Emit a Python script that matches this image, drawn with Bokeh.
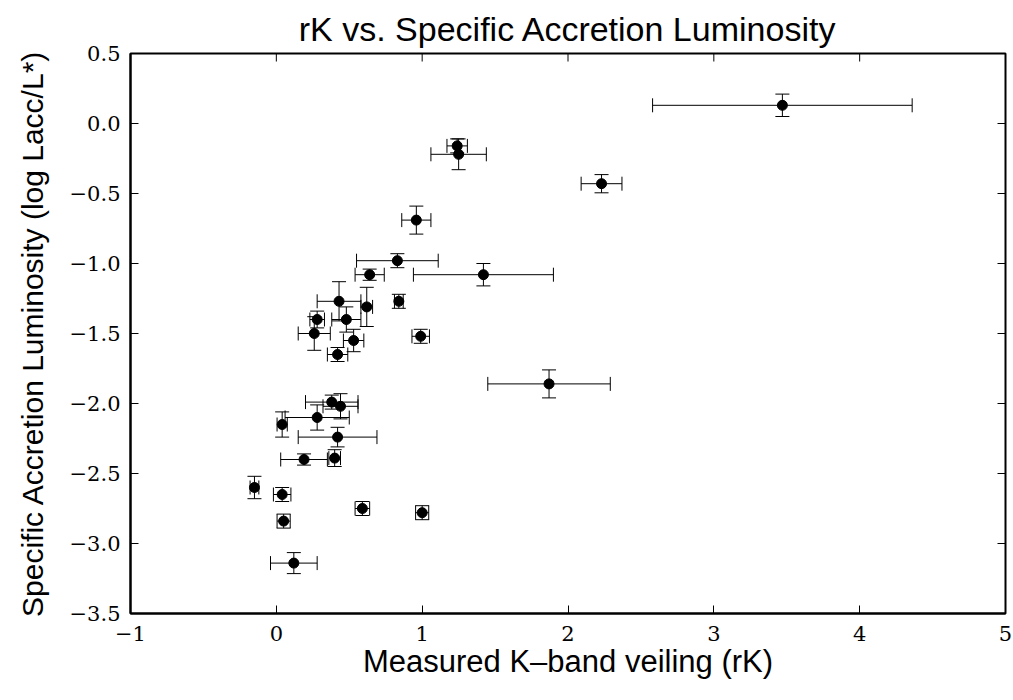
from bokeh.plotting import figure
from bokeh.models import ColumnDataSource, Whisker, TeeHead, FixedTicker, Range1d
from bokeh.embed import file_html
from bokeh.resources import INLINE

# data
x_vals = [3.47, 1.24, 1.25, 2.23, 0.96, 0.83, 0.64, 1.42, 0.84, 0.43, 0.62, 0.28, 0.48, 0.26, 0.53, 0.99,
          0.42, 1.87, 0.38, 0.44, 0.28, 0.04, 0.42, 0.19, 0.40, -0.15, 0.04, 0.59, 1.00, 0.05, 0.12]
y_vals = [0.13, -0.16, -0.22, -0.43, -0.69, -0.98, -1.08, -1.08, -1.27, -1.27, -1.31, -1.40, -1.40, -1.50,
          -1.55, -1.52, -1.65, -1.86, -1.99, -2.02, -2.10, -2.15, -2.24, -2.40, -2.39, -2.60, -2.65, -2.75,
          -2.78, -2.84, -3.14]
x_err = [0.89, 0.07, 0.19, 0.14, 0.10, 0.28, 0.10, 0.48, 0.03, 0.15, 0.04, 0.05, 0.10, 0.11, 0.07, 0.06,
         0.07, 0.42, 0.18, 0.12, 0.22, 0.035, 0.27, 0.16, 0.04, 0.03, 0.06, 0.05, 0.045, 0.045, 0.16]
y_err = [0.08, 0.05, 0.11, 0.065, 0.10, 0.05, 0.04, 0.08, 0.05, 0.14, 0.14, 0.06, 0.09, 0.12, 0.08, 0.05,
         0.05, 0.10, 0.05, 0.09, 0.09, 0.09, 0.07, 0.04, 0.06, 0.08, 0.05, 0.05, 0.05, 0.05, 0.075]

x_ticks = [-1, 0, 1, 2, 3, 4, 5]
x_tick_labels = ["\u22121", "0", "1", "2", "3", "4", "5"]
y_ticks = [-3.5, -3.0, -2.5, -2.0, -1.5, -1.0, -0.5, 0.0, 0.5]
y_tick_labels = ["\u22123.5", "\u22123.0", "\u22122.5", "\u22122.0", "\u22121.5", "\u22121.0", "\u22120.5", "0.0", "0.5"]

title_text = "rK vs. Specific Accretion Luminosity"
x_label = "Measured K\u2013band veiling (rK)"
y_label = "Specific Accretion Luminosity (log Lacc/L*)"

W, H = 1013, 700
BL, BR, BT, BB = 130, 8, 53, 87
TICK_PX = 8

x_lo, x_hi = x_ticks[0], x_ticks[-1]
y_lo, y_hi = y_ticks[0], y_ticks[-1]
# tick length expressed in data units for the top/right edges
dx = TICK_PX * (x_hi - x_lo) / (W - BL - BR)
dy = TICK_PX * (y_hi - y_lo) / (H - BT - BB)

src = ColumnDataSource(dict(
    x=x_vals, y=y_vals,
    xl=[a - e for a, e in zip(x_vals, x_err)], xu=[a + e for a, e in zip(x_vals, x_err)],
    yl=[a - e for a, e in zip(y_vals, y_err)], yu=[a + e for a, e in zip(y_vals, y_err)],
))

p = figure(width=W, height=H, output_backend="svg", toolbar_location=None,
           x_range=Range1d(x_lo, x_hi), y_range=Range1d(y_lo, y_hi),
           min_border_left=BL, min_border_right=BR, min_border_top=BT, min_border_bottom=BB,
           title=title_text)
p.title.text_font = "Liberation Sans"
p.title.text_font_size = "34px"
p.title.text_font_style = "normal"
p.title.align = "center"
p.title.vertical_align = "top"
p.title.text_color = "black"
p.title.standoff = 8

p.grid.visible = False
p.outline_line_color = "black"
p.outline_line_width = 2
p.background_fill_color = "white"
p.border_fill_color = "white"

for ax in [p.xaxis[0], p.yaxis[0]]:
    ax.major_tick_in = TICK_PX
    ax.major_tick_out = 0
    ax.minor_tick_line_color = None
    ax.axis_line_width = 2
    ax.major_tick_line_width = 1
    ax.major_label_text_font = "DejaVu Serif"
    ax.major_label_text_font_size = "21px"
    ax.major_label_text_color = "black"
    ax.axis_label_text_font = "Liberation Sans"
    ax.axis_label_text_font_style = "normal"
    ax.axis_label_text_color = "black"

p.xaxis[0].ticker = FixedTicker(ticks=x_ticks)
p.xaxis[0].major_label_overrides = {t: l for t, l in zip(x_ticks, x_tick_labels)}
p.xaxis[0].axis_label = x_label
p.xaxis[0].axis_label_text_font_size = "31px"
p.xaxis[0].major_label_standoff = 12
p.xaxis[0].axis_label_standoff = 0

p.yaxis[0].ticker = FixedTicker(ticks=y_ticks)
p.yaxis[0].major_label_overrides = {t: l for t, l in zip(y_ticks, y_tick_labels)}
p.yaxis[0].axis_label = y_label
p.yaxis[0].axis_label_text_font_size = "30px"
p.yaxis[0].major_label_standoff = 10
p.yaxis[0].axis_label_standoff = 18

# inward ticks on the top and right edges
p.segment(x0=x_ticks, x1=x_ticks, y0=[y_hi] * len(x_ticks), y1=[y_hi - dy] * len(x_ticks),
          line_color="black", line_width=1)
p.segment(x0=[x_hi] * len(y_ticks), x1=[x_hi - dx] * len(y_ticks), y0=y_ticks, y1=y_ticks,
          line_color="black", line_width=1)

yw = Whisker(base="x", upper="yu", lower="yl", dimension="height", source=src,
             line_color="black", line_width=1,
             upper_head=TeeHead(size=14, line_color="black", line_width=1),
             lower_head=TeeHead(size=14, line_color="black", line_width=1))
xw = Whisker(base="y", upper="xu", lower="xl", dimension="width", source=src,
             line_color="black", line_width=1,
             upper_head=TeeHead(size=14, line_color="black", line_width=1),
             lower_head=TeeHead(size=14, line_color="black", line_width=1))
p.add_layout(yw)
p.add_layout(xw)

p.scatter("x", "y", source=src, size=10, color="black")

open("out.html", "w").write(file_html(p, INLINE))
